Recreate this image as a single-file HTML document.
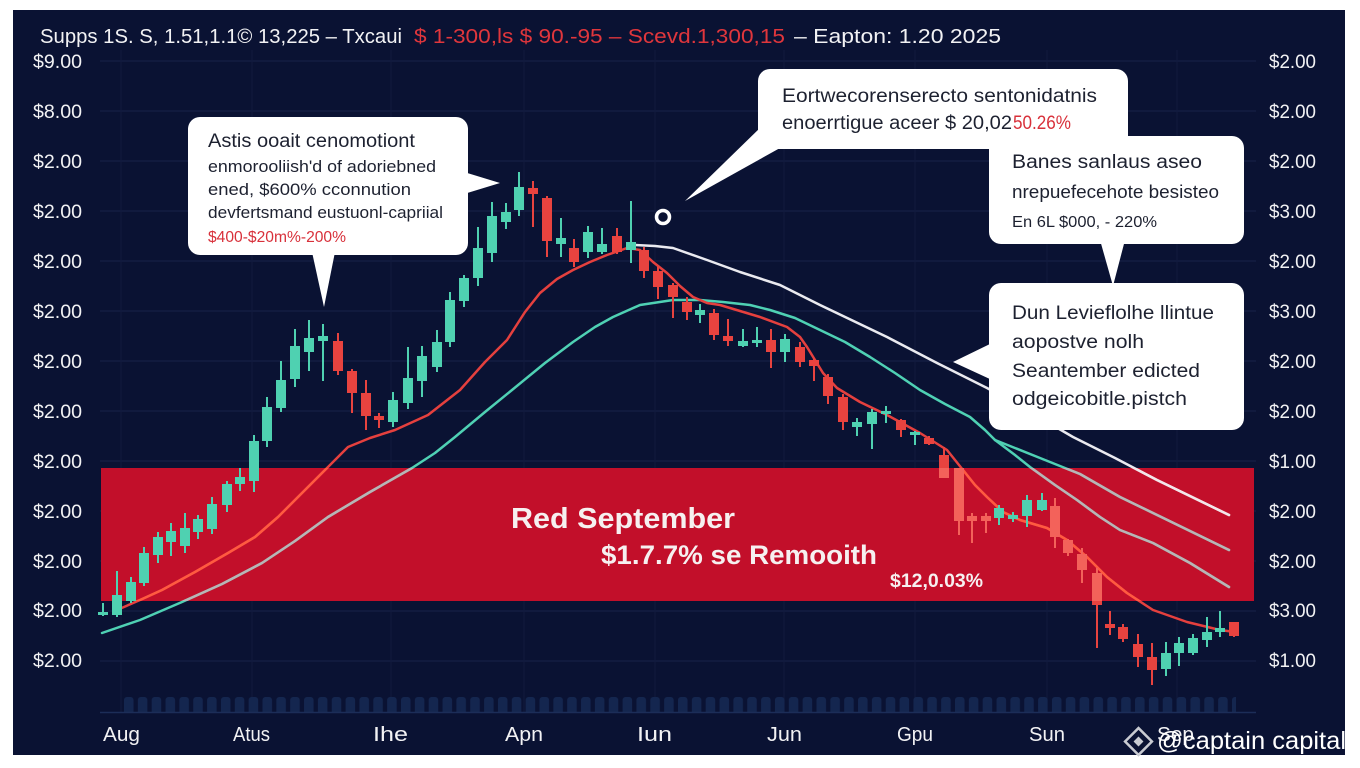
<!DOCTYPE html>
<html><head><meta charset="utf-8"><style>
html,body{margin:0;padding:0;background:#fff;}
svg{display:block;}
text{font-family:"Liberation Sans",Arial,sans-serif;}
</style></head><body>
<svg width="1360" height="768" viewBox="0 0 1360 768" xmlns="http://www.w3.org/2000/svg">
<defs>
<clipPath id="bc"><rect x="101" y="468" width="1153" height="133"/></clipPath>
<pattern id="bars" patternUnits="userSpaceOnUse" x="124" y="697" width="13.85" height="16"><rect x="0" y="0" width="9.5" height="18" rx="3" fill="#14264f"/></pattern>
</defs>
<rect width="1360" height="768" fill="#fff"/>
<rect x="13" y="10" width="1332" height="745" fill="#0a1233"/>

<!-- grid -->
<g stroke="#18214a" stroke-width="1">
<path d="M100 61H1256M100 111H1256M100 161H1256M100 211H1256M100 261H1256M100 311H1256M100 361H1256M100 411H1256M100 461H1256M100 511H1256M100 561H1256M100 611H1256M100 661H1256"/>
<path d="M121 50V712M252 50V712M391 50V712M524 50V712M655 50V712M784 50V712M915 50V712M1047 50V712M1177 50V712" stroke="#111a3d"/>
</g>
<rect x="124" y="697" width="1112" height="15" fill="url(#bars)"/>
<path d="M100 712.5H1256" stroke="#1c2d58" stroke-width="1.5"/>

<!-- band -->
<rect x="101" y="468" width="1153" height="133" fill="#c20f2a"/>

<!-- MA lines -->
<g fill="none" stroke-width="2.5" stroke-linejoin="round" stroke-linecap="round">
<polyline stroke="#eaeaf0" points="635,245 655,246 673,248 707,260 740,272 780,285 820,305 887,337 937,363 987,388 1030,412 1073,437 1115,458 1157,480 1229,515"/>
<polyline stroke="#4fd1b4" points="102,633 140,620 182,602 222,584 262,563 295,541 328,517 370,492 412,468 435,453 455,437 485,412 512,390 545,363 573,342 595,327 613,317 640,305 673,300 700,300 723,302 750,305 770,310 795,318 820,330 845,342 870,357 895,373 920,390 945,404 970,417 985,430 995,440"/>
<polyline stroke="#4fd1b4" points="995,440 1040,458 1080,474 1120,497 1153,513 1190,531 1229,550"/>
<polyline stroke="#4fd1b4" points="995,440 1015,455 1030,467 1055,485 1077,500 1100,517 1120,530 1153,543 1190,563 1229,587"/>
<polyline stroke="#e5403e" points="117,610 140,600 162,590 195,572 228,553 255,537 278,517 295,500 308,487 328,467 348,447 370,438 395,430 428,415 460,390 485,362 507,340 525,312 540,293 557,279 573,270 590,262 607,255 627,248 640,250 653,262 667,273 680,286 693,297 707,303 720,305 740,311 760,317 787,327 800,337 807,347 815,360 823,373 837,388 860,402 887,415 920,433 947,450 955,460 963,470 975,485 987,497 1003,512 1020,520 1047,528 1067,540 1087,557 1107,577 1127,593 1153,610 1187,622 1220,630 1235,632"/>
<g clip-path="url(#bc)">
<polyline stroke="#b9b5b6" points="102,633 140,620 182,602 222,584 262,563 295,541 328,517 370,492 412,468 435,453 455,437"/>
<polyline stroke="#b9b5b6" points="995,440 1040,458 1080,474 1120,497 1153,513 1190,531 1229,550"/>
<polyline stroke="#b9b5b6" points="995,440 1015,455 1030,467 1055,485 1077,500 1100,517 1120,530 1153,543 1190,563 1229,587"/>
<polyline stroke="#ff5a40" points="117,610 140,600 162,590 195,572 228,553 255,537 278,517 295,500 308,487 328,467 348,447 370,438 395,430 428,415 460,390 485,362 507,340 525,312 540,293 557,279 573,270 590,262 607,255 627,248 640,250 653,262 667,273 680,286 693,297 707,303 720,305 740,311 760,317 787,327 800,337 807,347 815,360 823,373 837,388 860,402 887,415 920,433 947,450 955,460 963,470 975,485 987,497 1003,512 1020,520 1047,528 1067,540 1087,557 1107,577 1127,593 1153,610 1187,622 1220,630 1235,632"/>
<polyline stroke="#f3e6ea" points="1073,437 1115,458 1157,480 1229,515"/>
</g>
</g>

<!-- candles green -->
<path fill="#4fd1b1" d="M102 603h2V616h-2Z M98 612h10V615h-10Z
M116 571h2V617h-2Z M112 595h10V615h-10Z
M130 577h2V603h-2Z M126 582h10V601h-10Z
M143 547h2V586h-2Z M139 553h10V583h-10Z
M157 532h2V563h-2Z M153 537h10V555h-10Z
M170 523h2V556h-2Z M166 531h10V542h-10Z
M184 513h2V553h-2Z M180 528h10V546h-10Z
M197 515h2V539h-2Z M193 519h10V532h-10Z
M211 497h2V534h-2Z M207 504h10V529h-10Z
M226 481h2V512h-2Z M222 484h10V505h-10Z
M239 468h2V491h-2Z M235 477h10V484h-10Z
M253 435h2V492h-2Z M249 441h10V481h-10Z
M266 397h2V447h-2Z M262 407h10V441h-10Z
M280 361h2V412h-2Z M276 380h10V408h-10Z
M294 329h2V387h-2Z M290 346h10V379h-10Z
M308 320h2V371h-2Z M304 338h10V352h-10Z
M322 324h2V381h-2Z M318 336h10V341h-10Z
M392 392h2V427h-2Z M388 400h10V422h-10Z
M407 347h2V409h-2Z M403 378h10V403h-10Z
M421 346h2V397h-2Z M417 356h10V381h-10Z
M436 330h2V372h-2Z M432 342h10V367h-10Z
M449 292h2V347h-2Z M445 300h10V342h-10Z
M463 275h2V307h-2Z M459 278h10V301h-10Z
M477 227h2V286h-2Z M473 248h10V278h-10Z
M491 202h2V262h-2Z M487 216h10V253h-10Z
M505 203h2V229h-2Z M501 212h10V222h-10Z
M518 172h2V216h-2Z M514 187h10V210h-10Z
M560 218h2V257h-2Z M556 238h10V244h-10Z
M587 226h2V258h-2Z M583 232h10V252h-10Z
M601 228h2V254h-2Z M597 244h10V252h-10Z
M630 201h2V263h-2Z M626 242h10V250h-10Z
M699 304h2V323h-2Z M695 310h10V315h-10Z
M742 329h2V347h-2Z M738 341h10V346h-10Z
M756 327h2V347h-2Z M752 340h10V343h-10Z
M784 334h2V362h-2Z M780 339h10V352h-10Z
M856 418h2V436h-2Z M852 422h10V427h-10Z
M871 409h2V449h-2Z M867 412h10V424h-10Z
M885 406h2V423h-2Z M881 411h10V414h-10Z
M914 431h2V445h-2Z M910 432h10V435h-10Z
M998 505h2V525h-2Z M994 508h10V518h-10Z
M1012 512h2V522h-2Z M1008 515h10V519h-10Z
M1026 495h2V527h-2Z M1022 500h10V516h-10Z
M1041 493h2V511h-2Z M1037 500h10V510h-10Z
M1165 642h2V676h-2Z M1161 653h10V669h-10Z
M1178 637h2V666h-2Z M1174 643h10V653h-10Z
M1192 634h2V655h-2Z M1188 638h10V653h-10Z
M1206 617h2V647h-2Z M1202 632h10V640h-10Z
M1219 611h2V637h-2Z M1215 628h10V632h-10Z"/>

<!-- candles red -->
<path id="rc" fill="#e8433f" d="M337 333h2V375h-2Z M333 341h10V371h-10Z
M351 369h2V413h-2Z M347 371h10V393h-10Z
M365 380h2V430h-2Z M361 393h10V416h-10Z
M378 413h2V428h-2Z M374 416h10V420h-10Z
M532 181h2V227h-2Z M528 188h10V194h-10Z
M546 196h2V257h-2Z M542 198h10V241h-10Z
M573 239h2V267h-2Z M569 248h10V262h-10Z
M616 228h2V254h-2Z M612 236h10V252h-10Z
M643 247h2V278h-2Z M639 250h10V271h-10Z
M657 266h2V299h-2Z M653 271h10V287h-10Z
M672 283h2V318h-2Z M668 285h10V297h-10Z
M686 297h2V320h-2Z M682 302h10V312h-10Z
M713 309h2V340h-2Z M709 313h10V335h-10Z
M727 319h2V346h-2Z M723 336h10V341h-10Z
M770 329h2V368h-2Z M766 340h10V352h-10Z
M799 342h2V367h-2Z M795 347h10V362h-10Z
M813 358h2V381h-2Z M809 360h10V366h-10Z
M827 374h2V404h-2Z M823 377h10V396h-10Z
M842 394h2V430h-2Z M838 397h10V422h-10Z
M900 419h2V437h-2Z M896 420h10V430h-10Z
M928 436h2V445h-2Z M924 438h10V444h-10Z
M943 447h2V478h-2Z M939 455h10V478h-10Z
M958 468h2V535h-2Z M954 468h10V521h-10Z
M971 513h2V543h-2Z M967 516h10V521h-10Z
M985 513h2V533h-2Z M981 516h10V521h-10Z
M1054 498h2V548h-2Z M1050 506h10V537h-10Z
M1067 539h2V556h-2Z M1063 540h10V553h-10Z
M1081 548h2V583h-2Z M1077 554h10V570h-10Z
M1096 568h2V648h-2Z M1092 573h10V605h-10Z
M1109 611h2V635h-2Z M1105 624h10V628h-10Z
M1122 624h2V642h-2Z M1118 627h10V639h-10Z
M1137 634h2V667h-2Z M1133 644h10V657h-10Z
M1151 643h2V685h-2Z M1147 657h10V670h-10Z
M1233 622h2V637h-2Z M1229 622h10V636h-10Z"/>
<g clip-path="url(#bc)"><path fill="#f3625a" d="M943 468h2V478h-2Z M939 468h10V478h-10Z M958 468h2V535h-2Z M954 468h10V521h-10Z M971 513h2V543h-2Z M967 516h10V521h-10Z M985 513h2V533h-2Z M981 516h10V521h-10Z M1054 498h2V548h-2Z M1050 506h10V537h-10Z M1067 539h2V556h-2Z M1063 540h10V553h-10Z M1081 548h2V583h-2Z M1077 554h10V570h-10Z M1096 568h2V601h-2Z M1092 573h10V601h-10Z"/></g>

<!-- marker -->
<circle cx="663" cy="217" r="6.5" fill="none" stroke="#ffffff" stroke-width="3.5"/>

<!-- band text -->
<text x="511" y="528" font-size="29" font-weight="bold" fill="#f6f0f0" textLength="224" lengthAdjust="spacingAndGlyphs">Red September</text>
<text x="601" y="564" font-size="27" font-weight="bold" fill="#f6f0f0" textLength="276" lengthAdjust="spacingAndGlyphs">$1.7.7% se Remooith</text>
<text x="890" y="587" font-size="19" font-weight="bold" fill="#f6f0f0" textLength="93" lengthAdjust="spacingAndGlyphs">$12,0.03%</text>

<!-- callouts -->
<g fill="#ffffff">
<rect x="188" y="117" width="280" height="138" rx="12"/>
<polygon points="464,172 500,183 464,194"/>
<polygon points="312,252 335,252 324,307"/>
<rect x="758" y="69" width="370" height="80" rx="12"/>
<polygon points="762,126 780,148 685,201"/>
<rect x="989" y="136" width="255" height="108" rx="12"/>
<polygon points="1100,240 1125,240 1113,286"/>
<rect x="989" y="283" width="255" height="147" rx="12"/>
<polygon points="992,343 992,380 953,362"/>
</g>
<g fill="#1d2130">
<text x="208" y="147" font-size="19" textLength="207" lengthAdjust="spacingAndGlyphs">Astis ooait cenomotiont</text>
<text x="208" y="172" font-size="17" textLength="228" lengthAdjust="spacingAndGlyphs">enmorooliish'd of adoriebned</text>
<text x="208" y="195" font-size="17" textLength="203" lengthAdjust="spacingAndGlyphs">ened, $600% cconnution</text>
<text x="208" y="218" font-size="17" textLength="235" lengthAdjust="spacingAndGlyphs">devfertsmand eustuonl-capriial</text>
<text x="208" y="242" font-size="16" fill="#d8303a" textLength="138" lengthAdjust="spacingAndGlyphs">$400-$20m%-200%</text>

<text x="782" y="102" font-size="19" textLength="315" lengthAdjust="spacingAndGlyphs">Eortwecorenserecto sentonidatnis</text>
<text x="782" y="129" font-size="19" textLength="230" lengthAdjust="spacingAndGlyphs">enoerrtigue aceer $ 20,02</text>
<text x="1013" y="129" font-size="19" fill="#d8303a" textLength="58" lengthAdjust="spacingAndGlyphs">50.26%</text>

<text x="1012" y="168" font-size="19" textLength="190" lengthAdjust="spacingAndGlyphs">Banes sanlaus aseo</text>
<text x="1012" y="198" font-size="18" textLength="207" lengthAdjust="spacingAndGlyphs">nrepuefecehote besisteo</text>
<text x="1012" y="227" font-size="16" textLength="145" lengthAdjust="spacingAndGlyphs">En 6L $000, - 220%</text>

<text x="1012" y="319" font-size="19" textLength="202" lengthAdjust="spacingAndGlyphs">Dun Levieflolhe llintue</text>
<text x="1012" y="348" font-size="19" textLength="132" lengthAdjust="spacingAndGlyphs">aopostve nolh</text>
<text x="1012" y="377" font-size="19" textLength="188" lengthAdjust="spacingAndGlyphs">Seantember edicted</text>
<text x="1012" y="405" font-size="19" textLength="175" lengthAdjust="spacingAndGlyphs">odgeicobitle.pistch</text>
</g>

<!-- title -->
<text x="40" y="43" font-size="20" fill="#f2f2f4" textLength="362" lengthAdjust="spacingAndGlyphs">Supps 1S. S, 1.51,1.1© 13,225 – Txcaui</text>
<text x="414" y="43" font-size="20" fill="#e0363c" textLength="371" lengthAdjust="spacingAndGlyphs">$ 1-300,ls $ 90.-95 – Scevd.1,300,15</text>
<text x="794" y="43" font-size="20" fill="#f2f2f4" textLength="207" lengthAdjust="spacingAndGlyphs">– Eapton: 1.20 2025</text>

<!-- left y labels -->
<g fill="#f2f2f4" font-size="19">
<text x="33" y="68" textLength="49" lengthAdjust="spacingAndGlyphs">$9.00</text>
<text x="33" y="118" textLength="49" lengthAdjust="spacingAndGlyphs">$8.00</text>
<text x="33" y="168" textLength="49" lengthAdjust="spacingAndGlyphs">$2.00</text>
<text x="33" y="218" textLength="49" lengthAdjust="spacingAndGlyphs">$2.00</text>
<text x="33" y="268" textLength="49" lengthAdjust="spacingAndGlyphs">$2.00</text>
<text x="33" y="318" textLength="49" lengthAdjust="spacingAndGlyphs">$2.00</text>
<text x="33" y="368" textLength="49" lengthAdjust="spacingAndGlyphs">$2.00</text>
<text x="33" y="418" textLength="49" lengthAdjust="spacingAndGlyphs">$2.00</text>
<text x="33" y="468" textLength="49" lengthAdjust="spacingAndGlyphs">$2.00</text>
<text x="33" y="518" textLength="49" lengthAdjust="spacingAndGlyphs">$2.00</text>
<text x="33" y="568" textLength="49" lengthAdjust="spacingAndGlyphs">$2.00</text>
<text x="33" y="617" textLength="49" lengthAdjust="spacingAndGlyphs">$2.00</text>
<text x="33" y="667" textLength="49" lengthAdjust="spacingAndGlyphs">$2.00</text>
</g>
<!-- right y labels -->
<g fill="#f2f2f4" font-size="19">
<text x="1269" y="68" textLength="47" lengthAdjust="spacingAndGlyphs">$2.00</text>
<text x="1269" y="118" textLength="47" lengthAdjust="spacingAndGlyphs">$2.00</text>
<text x="1269" y="168" textLength="47" lengthAdjust="spacingAndGlyphs">$2.00</text>
<text x="1269" y="218" textLength="47" lengthAdjust="spacingAndGlyphs">$3.00</text>
<text x="1269" y="268" textLength="47" lengthAdjust="spacingAndGlyphs">$2.00</text>
<text x="1269" y="318" textLength="47" lengthAdjust="spacingAndGlyphs">$3.00</text>
<text x="1269" y="368" textLength="47" lengthAdjust="spacingAndGlyphs">$2.00</text>
<text x="1269" y="418" textLength="47" lengthAdjust="spacingAndGlyphs">$2.00</text>
<text x="1269" y="468" textLength="47" lengthAdjust="spacingAndGlyphs">$1.00</text>
<text x="1269" y="518" textLength="47" lengthAdjust="spacingAndGlyphs">$2.00</text>
<text x="1269" y="568" textLength="47" lengthAdjust="spacingAndGlyphs">$2.00</text>
<text x="1269" y="617" textLength="47" lengthAdjust="spacingAndGlyphs">$3.00</text>
<text x="1269" y="667" textLength="47" lengthAdjust="spacingAndGlyphs">$1.00</text>
</g>

<!-- x labels -->
<g fill="#f2f2f4" font-size="20">
<text x="103" y="741" textLength="37" lengthAdjust="spacingAndGlyphs">Aug</text>
<text x="233" y="741" textLength="37" lengthAdjust="spacingAndGlyphs">Atus</text>
<text x="373" y="741" textLength="35" lengthAdjust="spacingAndGlyphs">Ihe</text>
<text x="505" y="741" textLength="38" lengthAdjust="spacingAndGlyphs">Apn</text>
<text x="637" y="741" textLength="35" lengthAdjust="spacingAndGlyphs">Iun</text>
<text x="767" y="741" textLength="35" lengthAdjust="spacingAndGlyphs">Jun</text>
<text x="897" y="741" textLength="36" lengthAdjust="spacingAndGlyphs">Gpu</text>
<text x="1029" y="741" textLength="36" lengthAdjust="spacingAndGlyphs">Sun</text>
<text x="1157" y="741" textLength="37" lengthAdjust="spacingAndGlyphs">Sep</text>
</g>

<!-- watermark -->
<g fill="none" stroke="#c9cbd2" stroke-width="2.5">
<rect x="1129" y="732" width="19" height="19" transform="rotate(45 1138.5 741.5)"/>
</g>
<rect x="1135" y="738" width="7" height="7" fill="#c9cbd2" transform="rotate(45 1138.5 741.5)"/>
<text x="1157" y="749" font-size="25" fill="#ffffff" textLength="189" lengthAdjust="spacingAndGlyphs">@captain capital</text>
</svg>
</body></html>
